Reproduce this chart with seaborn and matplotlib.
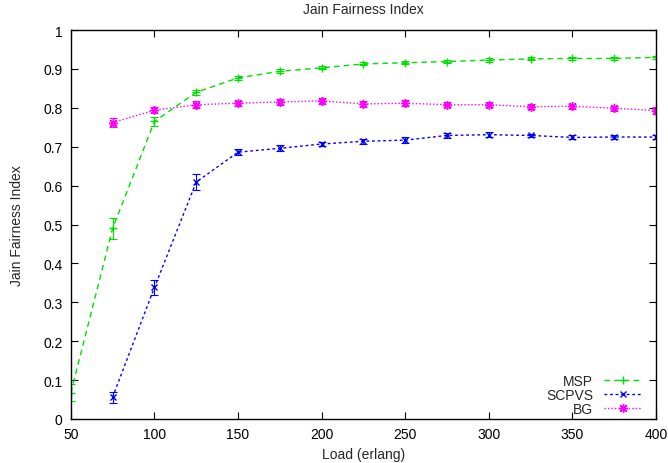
import matplotlib
matplotlib.use("Agg")
import matplotlib.pyplot as plt
import seaborn as sns
import pandas as pd

loads = [50, 75, 100, 125, 150, 175, 200, 225, 250, 275, 300, 325, 350, 375, 400]
msp = [0.067, 0.490, 0.765, 0.840, 0.877, 0.894, 0.903, 0.913, 0.916, 0.919, 0.923, 0.926, 0.927, 0.927, 0.930]
msp_err = [0.022, 0.028, 0.012, 0.006, 0.006, 0.005, 0.004, 0.004, 0.004, 0.004, 0.004, 0.004, 0.004, 0.004, 0.004]
scpvs_loads = loads[1:]
scpvs = [0.056, 0.338, 0.609, 0.686, 0.696, 0.707, 0.714, 0.717, 0.729, 0.731, 0.729, 0.724, 0.725, 0.725]
scpvs_err = [0.014, 0.020, 0.020, 0.007, 0.008, 0.006, 0.006, 0.007, 0.006, 0.006, 0.005, 0.005, 0.005, 0.005]
bg_loads = loads[1:]
bg = [0.762, 0.794, 0.808, 0.812, 0.815, 0.818, 0.810, 0.812, 0.808, 0.808, 0.803, 0.804, 0.799, 0.793]
bg_err = [0.012, 0.008, 0.009, 0.006, 0.007, 0.007, 0.008, 0.007, 0.007, 0.007, 0.006, 0.006, 0.007, 0.008]

sns.set_theme(style="ticks")
plt.rcParams['font.family'] = ['Liberation Sans', 'DejaVu Sans']

fig = plt.figure(figsize=(6.68, 4.64), dpi=100)
ax = fig.add_axes([0.106, 0.095, 0.876, 0.838])

series = [
    ("MSP", loads, msp, msp_err, "#00e000", "+", (0, (4, 3)), 6),
    ("SCPVS", scpvs_loads, scpvs, scpvs_err, "#0000ff", "x", (0, (2, 2)), 5),
    ("BG", bg_loads, bg, bg_err, "#ff00ff", (8, 2, 0), (0, (1, 1.5)), 6.5),
]
for name, xs, ys, es, col, mk, ls, ms in series:
    df = pd.DataFrame({"x": xs, "y": ys})
    ax.errorbar(xs, ys, yerr=es, fmt="none", ecolor=col, elinewidth=0.8,
                capsize=3, capthick=0.8, linestyle=ls)
    sns.lineplot(data=df, x="x", y="y", ax=ax, color=col, marker=mk,
                 markersize=ms, markeredgewidth=1.0, markeredgecolor=col,
                 markerfacecolor=col, linewidth=1.0,
                 linestyle=ls, label=name, errorbar=None)

ax.set_xlim(50, 400)
ax.set_ylim(0, 1)
ax.set_xticks(range(50, 401, 50))
ax.set_yticks([i / 10 for i in range(11)])
ax.set_yticklabels(["0", "0.1", "0.2", "0.3", "0.4", "0.5", "0.6", "0.7", "0.8", "0.9", "1"])
ax.tick_params(direction="in", top=True, right=True, length=5, width=0.8,
               labelsize=10, colors="black", pad=6)
for s in ax.spines.values():
    s.set_color("black")
    s.set_linewidth(1.0)
ax.set_xlabel("Load (erlang)", fontsize=10, labelpad=4)
ax.set_ylabel("Jain Fairness Index", fontsize=10, labelpad=14)
ax.set_title("Jain Fairness Index", fontsize=10, pad=12)
leg = ax.legend(loc="lower right", frameon=False, markerfirst=False, fontsize=10,
                handlelength=2.7, labelspacing=0.0, borderaxespad=0.0,
                handletextpad=0.8, bbox_to_anchor=(0.985, -0.006))
fig.savefig("out.png", dpi=100)
